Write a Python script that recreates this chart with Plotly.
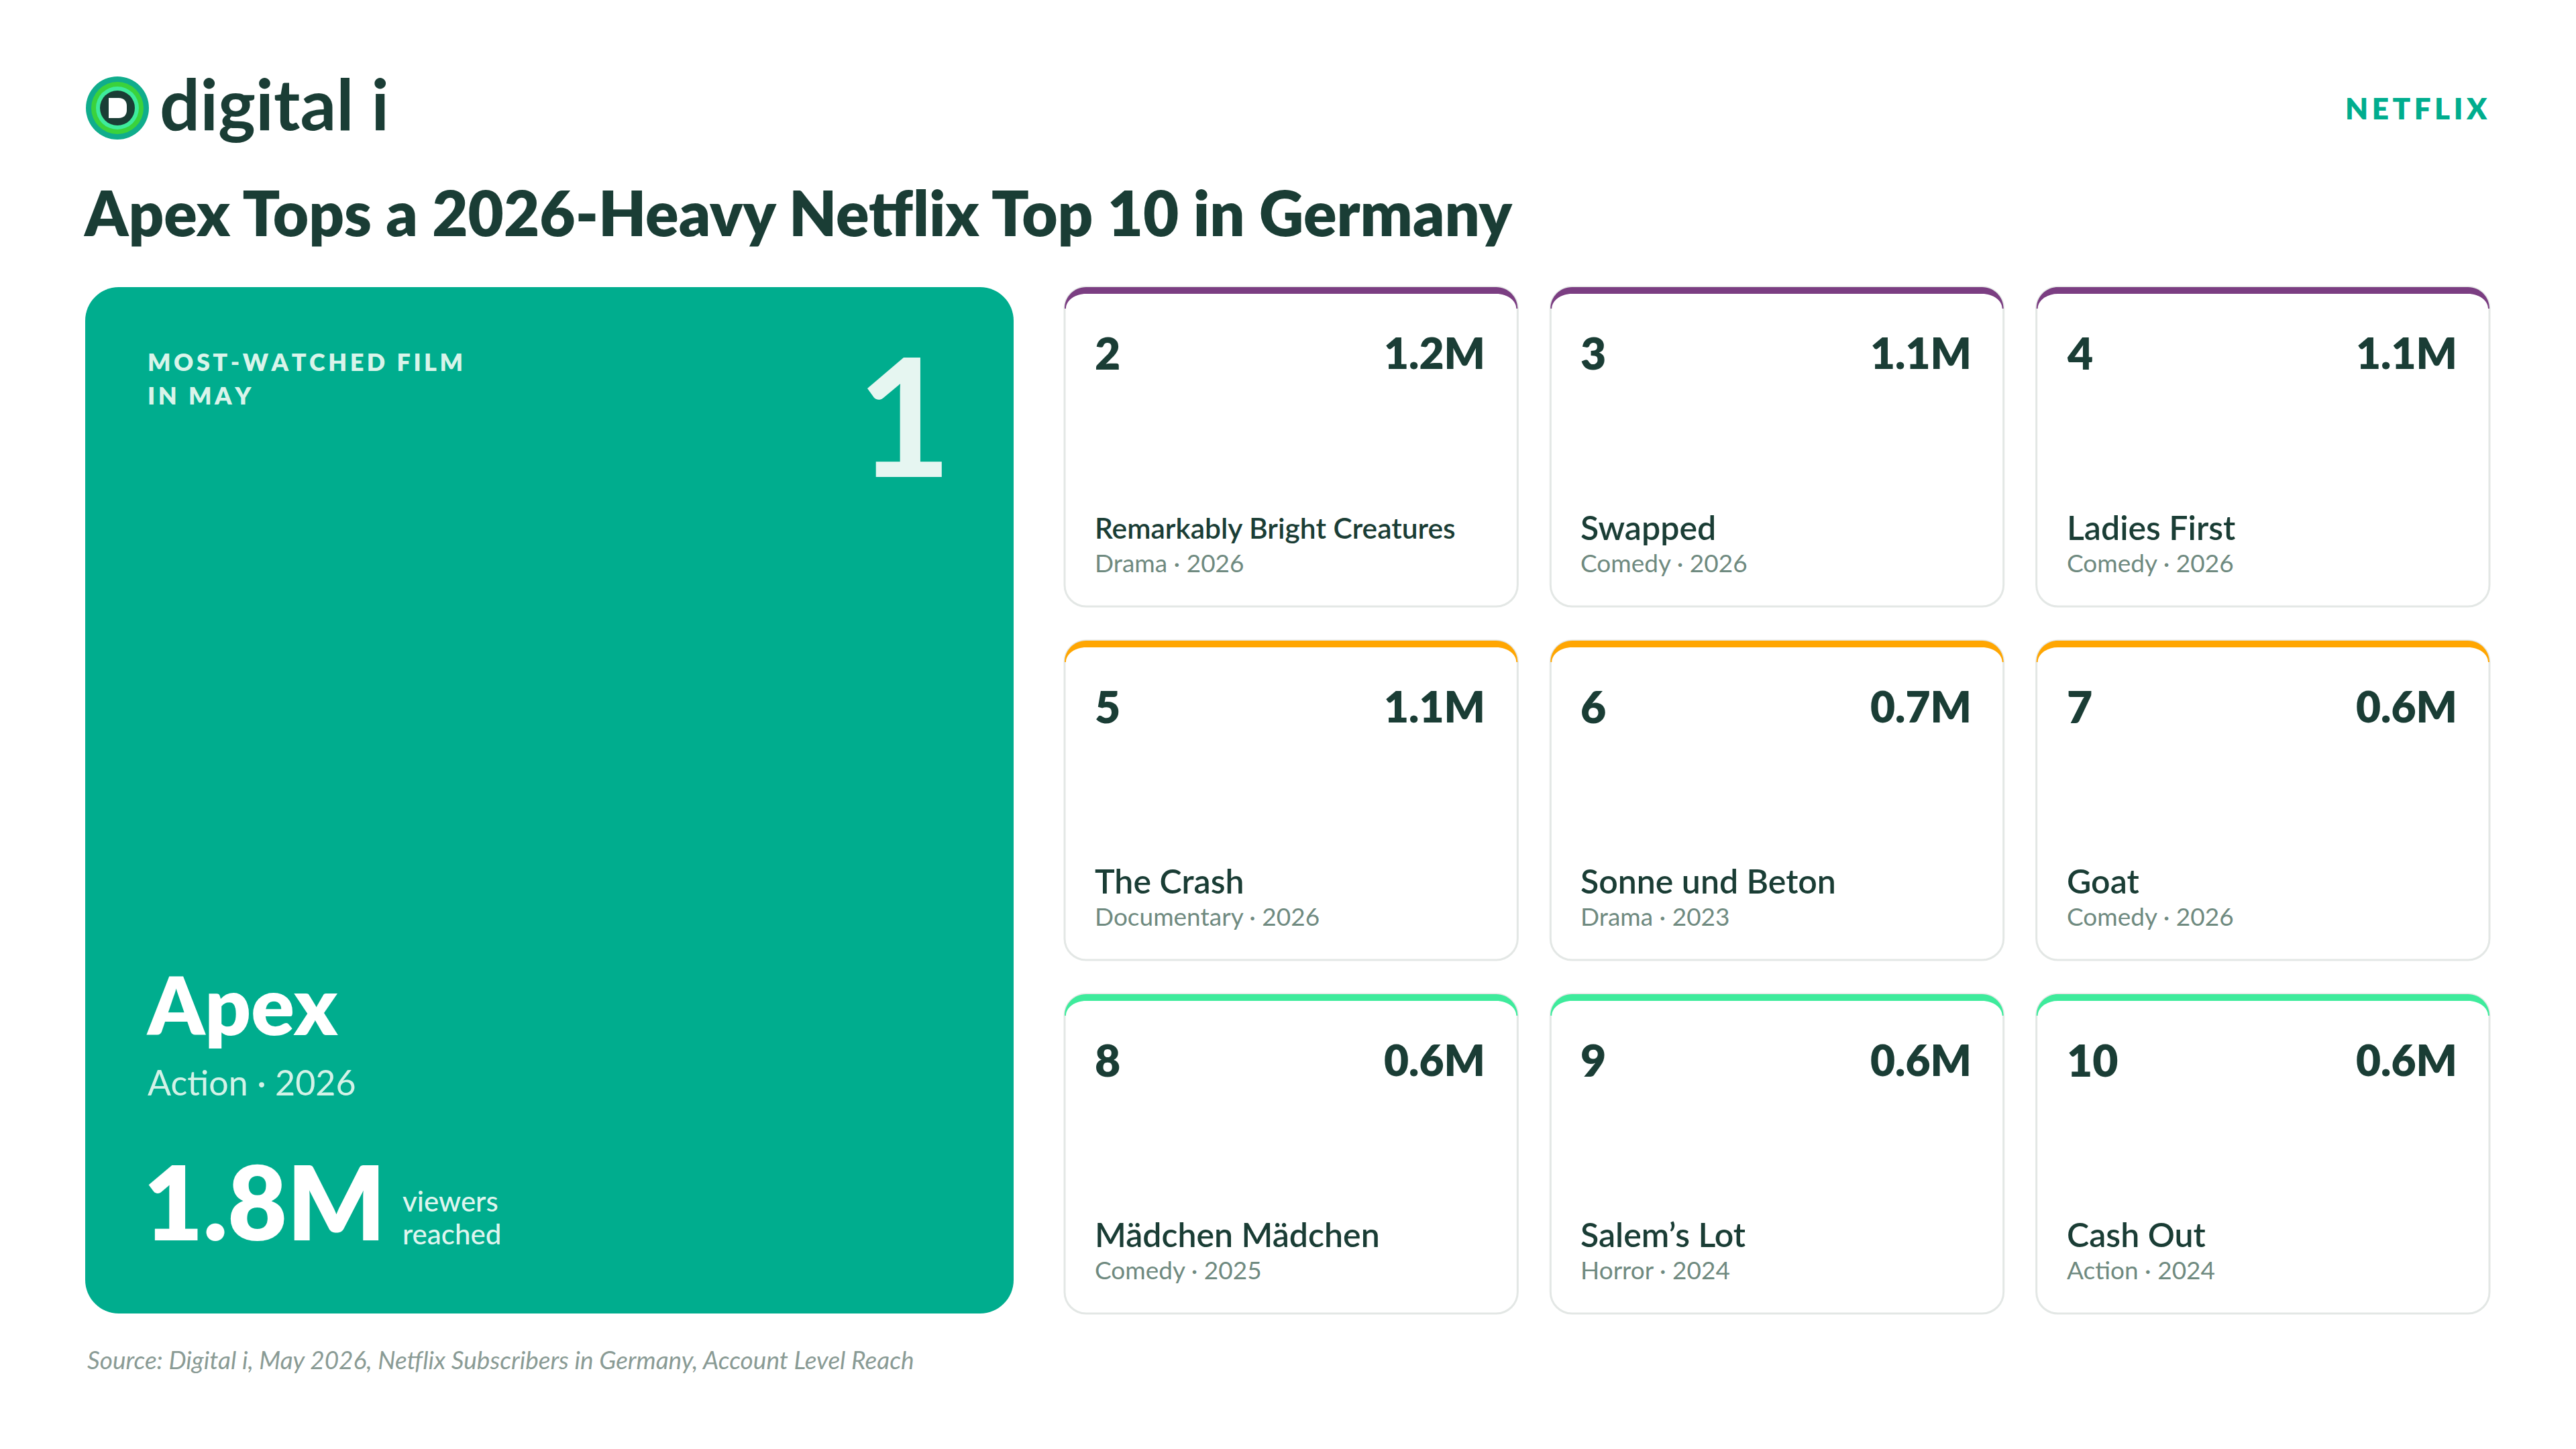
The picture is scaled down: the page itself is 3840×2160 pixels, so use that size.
import plotly.graph_objects as go

# Netflix Germany, May 2026 - top 10 films by account level reach
ranks = [1, 2, 3, 4, 5, 6, 7, 8, 9, 10]
titles = ["Apex", "Remarkably Bright Creatures", "Swapped", "Ladies First", "The Crash",
          "Sonne und Beton", "Goat", "Mädchen Mädchen", "Salem’s Lot", "Cash Out"]
genres = ["Action", "Drama", "Comedy", "Comedy", "Documentary",
          "Drama", "Comedy", "Comedy", "Horror", "Action"]
years = [2026, 2026, 2026, 2026, 2026, 2023, 2026, 2025, 2024, 2024]
viewers_m = [1.8, 1.2, 1.1, 1.1, 1.1, 0.7, 0.6, 0.6, 0.6, 0.6]

W, H = 3840, 2160
DARK = "#1a3d35"
TEAL = "#00ad8e"
MUTED = "#6f8a80"
FONT = "Lato"
row_colors = ["#7b3e82", "#ffa602", "#3eeb9c"]
K = 0.5523


def rounded_rect(x0, y0, x1, y1, r):
    k = K * r
    return (f"M{x0+r},{y0} L{x1-r},{y0} C{x1-r+k},{y0} {x1},{y0+r-k} {x1},{y0+r} "
            f"L{x1},{y1-r} C{x1},{y1-r+k} {x1-r+k},{y1} {x1-r},{y1} "
            f"L{x0+r},{y1} C{x0+r-k},{y1} {x0},{y1-r+k} {x0},{y1-r} "
            f"L{x0},{y0+r} C{x0},{y0+r-k} {x0+r-k},{y0} {x0+r},{y0} Z")


def top_band(x0, y0, x1, r, t, s):
    # coloured top border that tapers into the side borders
    return (f"M{x0},{y0+r} C{x0},{y0+r-K*r} {x0+r-K*r},{y0} {x0+r},{y0} "
            f"L{x1-r},{y0} C{x1-r+K*r},{y0} {x1},{y0+r-K*r} {x1},{y0+r} "
            f"L{x1-s},{y0+r} C{x1-s},{y0+r-K*(r-t)} {x1-r+K*(r-s)},{y0+t} {x1-r},{y0+t} "
            f"L{x0+r},{y0+t} C{x0+r-K*(r-s)},{y0+t} {x0+s},{y0+r-K*(r-t)} {x0+s},{y0+r} Z")


def label(x, y, text, size, color=DARK, weight=400, anchor="left", style="normal"):
    return dict(x=x, y=y, xref="x", yref="y", text=text, showarrow=False,
                xanchor=anchor, yanchor="middle",
                font=dict(family=FONT, size=size, color=color, weight=weight, style=style))


shapes = []
annotations = []

# logo
cx, cy = 167, 153
for rad, col in [(47, "#10ad8c"), (39, "#3bd23c"), (32, "#3eeb9c"), (26, DARK)]:
    shapes.append(dict(type="circle", xref="x", yref="y", x0=cx-rad, x1=cx+rad,
                       y0=cy-rad, y1=cy+rad, fillcolor=col, line_width=0))
shapes.append(dict(type="path", xref="x", yref="y", fillcolor="white", line_width=0,
                   path=f"M{cx-13},{cy-15} L{cx+2},{cy-15} C{cx+10},{cy-15} {cx+14},{cy-10} {cx+14},{cy-3} "
                        f"L{cx+14},{cy+3} C{cx+14},{cy+10} {cx+10},{cy+15} {cx+2},{cy+15} L{cx-13},{cy+15} Z"))
annotations.append(label(228, 145, "digital i", 106, weight=700))
annotations.append(label(3702, 153, "\u2009".join("NETFLIX"), 44, color=TEAL, weight=800, anchor="right"))
annotations.append(label(114, 308, "Apex Tops a 2026-Heavy Netflix Top 10 in Germany", 92, weight=800))

# hero card (rank 1)
hx0, hx1, hy0, hy1 = 119, 1503, 420, 1950
shapes.append(dict(type="path", xref="x", yref="y", fillcolor=TEAL, line_width=0,
                   path=rounded_rect(hx0, hy0, hx1, hy1, 50)))
annotations.append(label(210, 531, "\u2009".join("MOST-WATCHED FILM"), 36, color="#d9f4ea", weight=800))
annotations.append(label(210, 581, "\u2009".join("IN MAY"), 36, color="#d9f4ea", weight=800))
annotations.append(label(1413, 608, str(ranks[0]), 245, color="#e6f6f1", weight=700, anchor="right"))
annotations.append(label(208, 1489, titles[0], 120, color="white", weight=800))
annotations.append(label(210, 1605, f"{genres[0]} · {years[0]}", 52, color="#d3f2e7"))
annotations.append(label(204, 1782, f"{viewers_m[0]:.1f}M", 153, color="white", weight=800))
annotations.append(label(590, 1782, "viewers", 42, color="#dff5ee", weight=500))
annotations.append(label(590, 1831, "reached", 42, color="#dff5ee", weight=500))

# grid of ranks 2-10
gx0, gx1, gy0, gy1 = 1579, 3703, 420, 1950
gap_x, gap_y = 49, 51
cw = (gx1 - gx0 - 2 * gap_x) / 3
ch = (gy1 - gy0 - 2 * gap_y) / 3
for i in range(1, len(ranks)):
    row, col = (i - 1) // 3, (i - 1) % 3
    x0 = gx0 + col * (cw + gap_x)
    x1 = x0 + cw
    y0 = gy0 + row * (ch + gap_y)
    y1 = y0 + ch
    shapes.append(dict(type="path", xref="x", yref="y", fillcolor="white",
                       line=dict(color="#e3e7e5", width=3), path=rounded_rect(x0, y0, x1, y1, 32)))
    shapes.append(dict(type="path", xref="x", yref="y", fillcolor=row_colors[row], line_width=0,
                       path=top_band(x0, y0, x1, 32, 10, 2)))
    annotations.append(label(x0 + 43, y0 + 97, str(ranks[i]), 66, weight=800))
    annotations.append(label(x1 - 46, y0 + 97, f"{viewers_m[i]:.1f}M", 64, weight=800, anchor="right"))
    tsize = 42.5 if len(titles[i]) > 20 else 50
    annotations.append(label(x0 + 43, y0 + 358, titles[i], tsize, weight=600))
    annotations.append(label(x0 + 43, y0 + 410, f"{genres[i]} · {years[i]}", 37, color=MUTED))

annotations.append(label(120, 2018, "Source: Digital i, May 2026, Netflix Subscribers in Germany, Account Level Reach",
                         37, color="#8a9b95", style="italic"))

fig = go.Figure(go.Scatter(x=[], y=[]))
fig.update_layout(
    width=W, height=H, margin=dict(l=0, r=0, t=0, b=0),
    paper_bgcolor="white", plot_bgcolor="white", showlegend=False,
    xaxis=dict(range=[0, W], visible=False, fixedrange=True),
    yaxis=dict(range=[H, 0], visible=False, fixedrange=True),
    shapes=shapes, annotations=annotations,
)
fig.write_html("out.html")
